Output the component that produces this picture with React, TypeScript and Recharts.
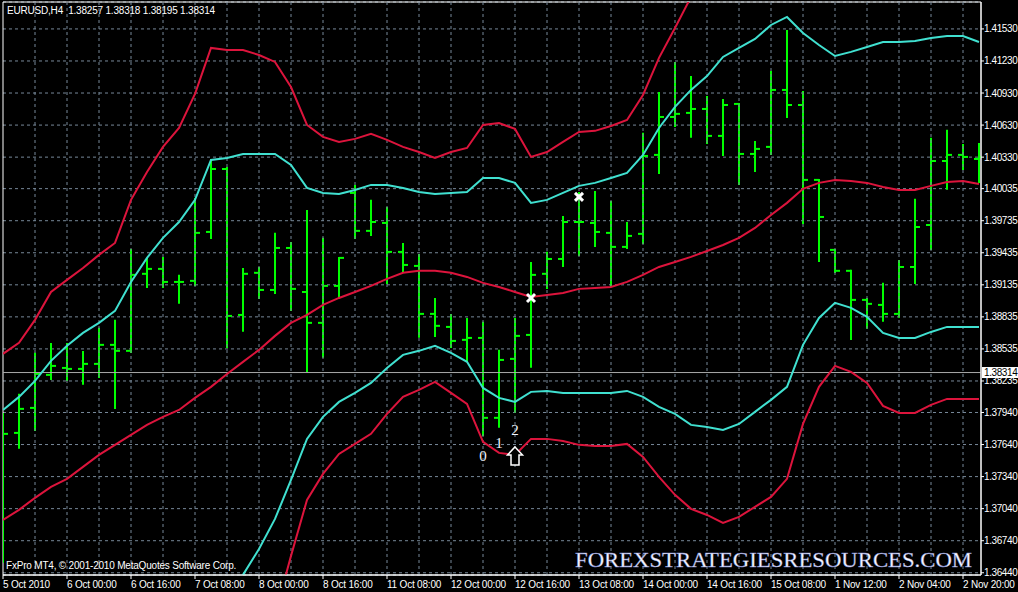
import React from "react";
import {
  ComposedChart,
  Bar,
  Line,
  Scatter,
  XAxis,
  YAxis,
  CartesianGrid,
  ReferenceLine,
  ReferenceArea,
} from "recharts";

const W = 1018;
const H = 592;
const Y_MIN = 1.36419;
const Y_MAX = 1.41782;
const X_MAX = 61.125;

// EURUSD H4 bars, left to right
const opens = [
  1.37684, 1.37749, 1.37983, 1.38292, 1.38357, 1.38348, 1.38395, 1.38573, 1.38517, 1.39238,
  1.39284, 1.39162, 1.39172, 1.3963, 1.40219, 1.38853, 1.39247, 1.39087, 1.3948, 1.39068,
  1.38779, 1.39125, 1.39995, 1.3964, 1.39714, 1.39443, 1.39312, 1.38863, 1.38741, 1.3862,
  1.38638, 1.3789, 1.38442, 1.38666, 1.39238, 1.39377, 1.39723, 1.39714, 1.39621, 1.3949,
  1.39612, 1.40351, 1.40706, 1.40744, 1.40781, 1.40529, 1.40828, 1.4036, 1.40426, 1.40959,
  1.40818, 1.40117, 1.39462, 1.39266, 1.38994, 1.38947, 1.38863, 1.39302, 1.39695, 1.40294,
  1.40351, 1.40313,
];
const highs = [
  1.37927, 1.38105, 1.38489, 1.38582, 1.38582, 1.38507, 1.38723, 1.38798, 1.39462, 1.39377,
  1.39387, 1.39219, 1.39939, 1.40304, 1.40229, 1.39284, 1.39293, 1.39612, 1.39527, 1.39827,
  1.39565, 1.39387, 1.40061, 1.39921, 1.39855, 1.39518, 1.39415, 1.39003, 1.38853, 1.38816,
  1.38779, 1.38517, 1.38816, 1.3934, 1.39434, 1.3977, 1.39995, 1.40004, 1.39911, 1.39714,
  1.40548, 1.40931, 1.41212, 1.4108, 1.40893, 1.40865, 1.40828, 1.40472, 1.41127, 1.41511,
  1.4094, 1.40117, 1.39462, 1.39266, 1.39003, 1.39144, 1.39359, 1.3993, 1.40501, 1.40576,
  1.40444, 1.40454,
];
const lows = [
  1.36542, 1.37609, 1.37777, 1.38254, 1.38245, 1.38208, 1.38273, 1.37983, 1.38507, 1.39115,
  1.39115, 1.38966, 1.39134, 1.39574, 1.38554, 1.38704, 1.39012, 1.39059, 1.389, 1.38329,
  1.38461, 1.39012, 1.39574, 1.39602, 1.39153, 1.39256, 1.38648, 1.38657, 1.38554, 1.38432,
  1.3773, 1.37806, 1.37946, 1.38367, 1.39106, 1.39312, 1.39415, 1.39499, 1.39125, 1.3948,
  1.39527, 1.40182, 1.40622, 1.4052, 1.40463, 1.40351, 1.40079, 1.40201, 1.4036, 1.40706,
  1.39714, 1.39359, 1.39256, 1.38629, 1.38732, 1.38798, 1.38835, 1.39153, 1.39471, 1.40033,
  1.40219, 1.40098,
];
const closes = [
  1.3774, 1.37974, 1.38301, 1.38376, 1.38348, 1.38395, 1.38573, 1.38517, 1.39228, 1.39284,
  1.39162, 1.39162, 1.39621, 1.40219, 1.38844, 1.39238, 1.39087, 1.3948, 1.39097, 1.38779,
  1.39125, 1.39387, 1.3964, 1.39723, 1.39443, 1.39321, 1.38863, 1.38751, 1.3861, 1.38638,
  1.3789, 1.38432, 1.38657, 1.39228, 1.39377, 1.39723, 1.39723, 1.3963, 1.3949, 1.39593,
  1.40341, 1.40706, 1.40735, 1.40781, 1.40529, 1.40818, 1.4036, 1.40407, 1.40959, 1.40818,
  1.40117, 1.3977, 1.39266, 1.38994, 1.38957, 1.38863, 1.39302, 1.39676, 1.40294, 1.40351,
  1.40332, 1.40332,
];

// bollinger bands: red outer, turquoise inner, red middle
const upperOuter = [
  1.38489, 1.38592, 1.38807, 1.39068, 1.39181, 1.39293, 1.39415, 1.39527, 1.3993, 1.40191,
  1.40426, 1.40603, 1.40922, 1.41352, 1.41333, 1.41333, 1.41286, 1.41221, 1.40986, 1.40631,
  1.4052, 1.40472, 1.40501, 1.40548, 1.40491, 1.40426, 1.40378, 1.40322, 1.40378, 1.40416,
  1.40631, 1.4065, 1.40594, 1.40332, 1.40378, 1.40472, 1.40566, 1.40576, 1.40622, 1.40678,
  1.40912, 1.41259, 1.41539, 1.41829, 1.41923, 1.4211, 1.42185, 1.42278, 1.42428, 1.42484,
  1.42232, 1.41998, 1.41857, 1.41895, 1.4196, 1.421, 1.4211, 1.4211, 1.4211, 1.42129,
  1.42147, 1.42091,
];
const upperInner = [
  1.37964, 1.38086, 1.38236, 1.38423, 1.38564, 1.38685, 1.38779, 1.38891, 1.39162, 1.39387,
  1.39574, 1.39723, 1.3993, 1.40304, 1.40322, 1.4036, 1.4036, 1.4036, 1.40257, 1.40042,
  1.39995, 1.39986, 1.40023, 1.4007, 1.4007, 1.40042, 1.40004, 1.39986, 1.39995, 1.40004,
  1.40135, 1.40135, 1.40089, 1.39902, 1.3993, 1.39995, 1.40061, 1.40089, 1.40135, 1.40182,
  1.40351, 1.40603, 1.408, 1.40959, 1.41089, 1.41268, 1.41352, 1.41436, 1.41567, 1.41642,
  1.41492, 1.4138, 1.41277, 1.41315, 1.41361, 1.41408, 1.41408, 1.41417, 1.41445, 1.41464,
  1.41464, 1.41408,
];
const middle = [
  1.36935, 1.37029, 1.37141, 1.37244, 1.37319, 1.37431, 1.37543, 1.37637, 1.3773, 1.37824,
  1.37899, 1.37964, 1.38077, 1.3818, 1.38301, 1.38414, 1.38526, 1.38657, 1.38779, 1.38853,
  1.38947, 1.39012, 1.39068, 1.39125, 1.3919, 1.39247, 1.39266, 1.39266, 1.39247, 1.39209,
  1.39153, 1.39115, 1.39068, 1.39022, 1.3904, 1.39059, 1.39097, 1.39106, 1.39115, 1.39162,
  1.39228, 1.39302, 1.39349, 1.39396, 1.39452, 1.39508, 1.39574, 1.39667, 1.39789, 1.39902,
  1.40033, 1.40089, 1.40117, 1.40107, 1.40089, 1.40051, 1.40023, 1.40023, 1.40061, 1.40098,
  1.40107, 1.40079,
];
const lowerInner = [
  1.35895, 1.3597, 1.36036, 1.36064, 1.36064, 1.36176, 1.36279, 1.36279, 1.36279, 1.3626,
  1.36223, 1.36204, 1.36223, 1.36055, 1.36279, 1.3642, 1.36663, 1.36944, 1.37309, 1.37693,
  1.37899, 1.38039, 1.38123, 1.38217, 1.38357, 1.38479, 1.38517, 1.38564, 1.38498, 1.38414,
  1.3817, 1.38077, 1.38039, 1.38133, 1.38142, 1.38123, 1.38123, 1.38123, 1.38123, 1.38142,
  1.38086, 1.37992, 1.37927, 1.37824, 1.37805, 1.37777, 1.37833, 1.37946, 1.38058, 1.3818,
  1.38573, 1.38825, 1.38966, 1.38919, 1.38835, 1.38685, 1.38638, 1.38638, 1.38694, 1.38741,
  1.38741, 1.38741,
];
const lowerOuter = [
  1.3538, 1.35464, 1.35474, 1.35418, 1.35455, 1.35567, 1.3567, 1.35745, 1.3553, 1.35455,
  1.35371, 1.35324, 1.35231, 1.35006, 1.35268, 1.35493, 1.35764, 1.36045, 1.36598, 1.37122,
  1.37365, 1.37552, 1.37646, 1.3774, 1.37927, 1.38086, 1.38152, 1.38227, 1.38123, 1.3802,
  1.37665, 1.37562, 1.37543, 1.37693, 1.37693, 1.37674, 1.37637, 1.37627, 1.37627, 1.37646,
  1.37524, 1.37337, 1.37169, 1.37038, 1.36981, 1.36906, 1.36963, 1.37057, 1.3715, 1.37319,
  1.37833, 1.3818, 1.38376, 1.3832, 1.38217, 1.38002, 1.37936, 1.37936, 1.38011, 1.38067,
  1.38067, 1.38067,
];

const xTickBars = [0, 4, 8, 12, 16, 20, 24, 28, 32, 36, 40, 44, 48, 52, 56, 60];
const xTickLabels = [
  "5 Oct 2010", "6 Oct 00:00", "6 Oct 16:00", "7 Oct 08:00", "8 Oct 00:00", "8 Oct 16:00",
  "11 Oct 08:00", "12 Oct 00:00", "12 Oct 16:00", "13 Oct 08:00", "14 Oct 00:00",
  "14 Oct 16:00", "15 Oct 08:00", "1 Nov 12:00", "2 Nov 04:00", "2 Nov 20:00",
];
const gridBars = [
  2, 4, 6, 8, 10, 12, 14, 16, 18, 20, 22, 24, 26, 28, 30, 32, 34, 36, 38, 40, 42, 44, 46, 48,
  50, 52, 54, 56, 58, 60,
];
const yTicks = [
  1.4153, 1.4123, 1.4093, 1.4063, 1.4033, 1.40035, 1.39735, 1.39435, 1.39135, 1.38835,
  1.38535, 1.38235, 1.3794, 1.3764, 1.3734, 1.3704, 1.3674, 1.3644,
];

const currentPrice = 1.38314;
const headerText = "EURUSD,H4  1.38257 1.38318 1.38195 1.38314";

// signal marks
const crossBars = [33, 36];
const crossPrices = [1.39012, 1.39958];
const waveBars = [30, 31, 32];
const wavePrices = [1.37534, 1.37655, 1.37777];
const waveTexts = ["0", "1", "2"];
const arrowBars = [32];
const arrowPrices = [1.37618];

const rows = opens.map((o, i) => ({
  bar: i,
  o,
  h: highs[i],
  l: lows[i],
  c: closes[i],
  range: [lows[i], highs[i]],
  ru: upperOuter[i],
  cu: upperInner[i],
  mid: middle[i],
  cl: lowerInner[i],
  rl: lowerOuter[i],
}));
const crossRows = crossBars.map((b, i) => ({ bar: b, price: crossPrices[i] }));
const waveRows = waveBars.map((b, i) => ({ bar: b, price: wavePrices[i], t: waveTexts[i] }));
const arrowRows = arrowBars.map((b, i) => ({ bar: b, price: arrowPrices[i] }));

const FONT = "'Liberation Sans', Arial, sans-serif";
const SERIF = "'Liberation Serif', 'Times New Roman', serif";
const GRID = "#778899";
const RED = "#dc143c";
const CYAN = "#40e0d0";

function OhlcBar(props: any) {
  const { x, y, width, height, payload } = props;
  if (x == null || payload == null) return null;
  const cx = x + width / 2;
  const top = Math.min(y, y + height);
  const bot = Math.max(y, y + height);
  const span = payload.h - payload.l || 1;
  const yOf = (v: number) => top + ((payload.h - v) / span) * (bot - top);
  return (
    <g stroke="#00ff00" strokeWidth={2}>
      <line x1={cx} x2={cx} y1={top - 1} y2={bot + 1} />
      <line x1={cx - 5} x2={cx} y1={yOf(payload.o)} y2={yOf(payload.o)} />
      <line x1={cx} x2={cx + 5} y1={yOf(payload.c)} y2={yOf(payload.c)} />
    </g>
  );
}

function CrossMark(props: any) {
  const { cx, cy } = props;
  if (cx == null) return null;
  return (
    <g stroke="#fff" strokeWidth={3}>
      <line x1={cx - 4} y1={cy - 4} x2={cx + 4} y2={cy + 4} />
      <line x1={cx - 4} y1={cy + 4} x2={cx + 4} y2={cy - 4} />
    </g>
  );
}

function WaveLabel(props: any) {
  const { cx, cy, payload } = props;
  if (cx == null) return null;
  return (
    <text x={cx} y={cy + 5} textAnchor="middle" fill="#f4f6ff" fontFamily={SERIF} fontSize={15}>
      {payload.t}
    </text>
  );
}

function UpArrow(props: any) {
  const { cx, cy } = props;
  if (cx == null) return null;
  const pts = [
    [cx, cy],
    [cx + 7.5, cy + 8],
    [cx + 4, cy + 8],
    [cx + 4, cy + 18],
    [cx - 4, cy + 18],
    [cx - 4, cy + 8],
    [cx - 7.5, cy + 8],
  ]
    .map((p) => p.join(","))
    .join(" ");
  return <polygon points={pts} fill="#000" stroke="#fff" strokeWidth={1.5} />;
}

function XTick(props: any) {
  const { x, y, payload } = props;
  const idx = xTickBars.indexOf(payload.value);
  return (
    <text x={x} y={y + 7} fill="#fff" fontFamily={FONT} fontSize={10} letterSpacing={-0.2}>
      {xTickLabels[idx]}
    </text>
  );
}

function YTick(props: any) {
  const { x, y, payload } = props;
  return (
    <text x={x - 2} y={y + 3.5} fill="#fff" fontFamily={FONT} fontSize={10} letterSpacing={-0.4}>
      {Number(payload.value).toFixed(5)}
    </text>
  );
}

function PriceTag(props: any) {
  const vb = props.viewBox;
  if (!vb) return null;
  const left = vb.x + vb.width + 1;
  return (
    <g>
      <rect x={left} y={vb.y - 5.5} width={W - left} height={11} fill="#fff" />
      <text x={left + 2} y={vb.y + 3.5} fill="#000" fontFamily={FONT} fontSize={10} letterSpacing={-0.4}>
        {currentPrice.toFixed(5)}
      </text>
    </g>
  );
}

export default function App() {
  return (
    <div
      style={{
        position: "fixed",
        left: 0,
        top: 0,
        width: W,
        height: H,
        background: "#000",
        overflow: "hidden",
      }}
    >
      <ComposedChart width={W} height={H} data={rows} margin={{ top: 2, right: 0, bottom: 0, left: 3 }}>
        <CartesianGrid vertical={false} stroke={GRID} strokeDasharray="3 3" />
        {gridBars.map((b) => (
          <ReferenceLine key={b} x={b} stroke={GRID} strokeDasharray="3 3" />
        ))}
        <XAxis
          dataKey="bar"
          type="number"
          domain={[0, X_MAX]}
          ticks={xTickBars}
          interval={0}
          allowDataOverflow
          height={17}
          tickSize={4}
          axisLine={{ stroke: "#fff" }}
          tickLine={{ stroke: "#fff" }}
          tick={<XTick />}
        />
        <YAxis
          orientation="right"
          type="number"
          domain={[Y_MIN, Y_MAX]}
          ticks={yTicks}
          interval={0}
          allowDataOverflow
          width={37}
          tickSize={3}
          axisLine={{ stroke: "#fff" }}
          tickLine={{ stroke: "#fff" }}
          tick={<YTick />}
        />
        <ReferenceLine y={currentPrice} stroke="#a9a9a9" label={PriceTag} />
        <Bar dataKey="range" barSize={10} shape={<OhlcBar />} isAnimationActive={false} />
        <Line dataKey="ru" stroke={RED} strokeWidth={2} dot={false} activeDot={false} isAnimationActive={false} />
        <Line dataKey="rl" stroke={RED} strokeWidth={2} dot={false} activeDot={false} isAnimationActive={false} />
        <Line dataKey="mid" stroke={RED} strokeWidth={2} dot={false} activeDot={false} isAnimationActive={false} />
        <Line dataKey="cu" stroke={CYAN} strokeWidth={2} dot={false} activeDot={false} isAnimationActive={false} />
        <Line dataKey="cl" stroke={CYAN} strokeWidth={2} dot={false} activeDot={false} isAnimationActive={false} />
        <Scatter data={crossRows} dataKey="price" shape={<CrossMark />} isAnimationActive={false} />
        <Scatter data={waveRows} dataKey="price" shape={<WaveLabel />} isAnimationActive={false} />
        <Scatter data={arrowRows} dataKey="price" shape={<UpArrow />} isAnimationActive={false} />
        <ReferenceArea x1={0} x2={X_MAX} y1={Y_MIN} y2={Y_MAX} fill="none" stroke="#fff" strokeWidth={1} />
      </ComposedChart>
      <svg
        width={W}
        height={H}
        style={{ position: "absolute", left: 0, top: 0, pointerEvents: "none" }}
      >
        <text x={7} y={14} fill="#fff" fontFamily={FONT} fontSize={10} letterSpacing={-0.2} style={{ whiteSpace: "pre" }}>
          {headerText}
        </text>
        <text x={6} y={569} fill="#fff" fontFamily={FONT} fontSize={10} letterSpacing={-0.2}>
          FxPro MT4, © 2001-2010 MetaQuotes Software Corp.
        </text>
        <text
          x={575}
          y={567}
          fill="#f8f8ff"
          stroke="#7c88d0"
          strokeWidth={0.4}
          fontFamily={SERIF}
          fontSize={22}
          textLength={397}
          lengthAdjust="spacingAndGlyphs"
        >
          FOREXSTRATEGIESRESOURCES.COM
        </text>
      </svg>
    </div>
  );
}
